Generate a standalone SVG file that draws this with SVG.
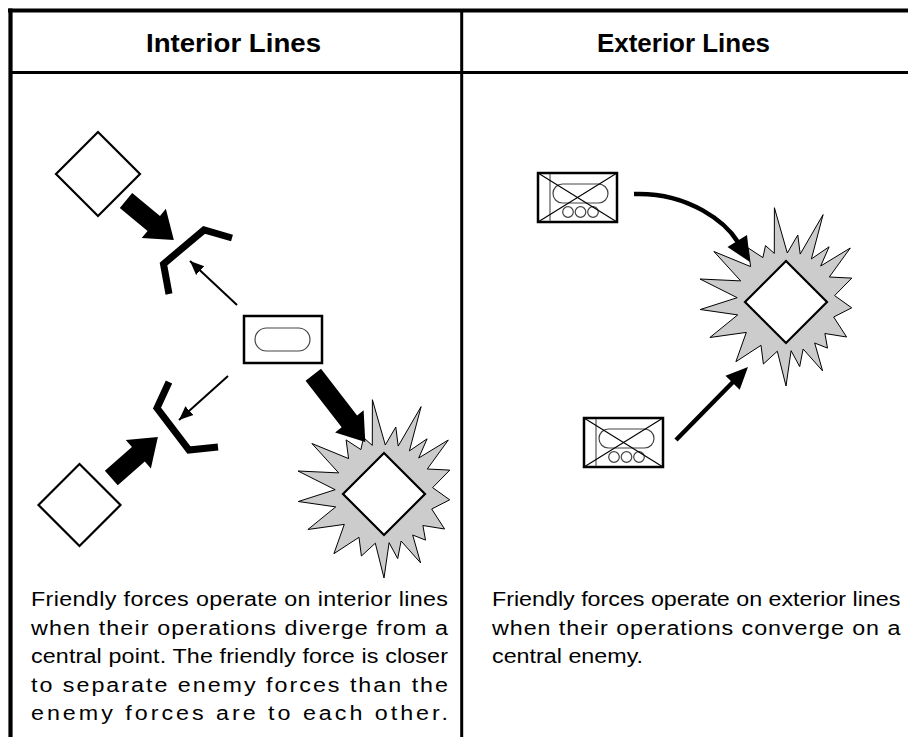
<svg xmlns="http://www.w3.org/2000/svg" xmlns:xlink="http://www.w3.org/1999/xlink" width="908" height="737" viewBox="0 0 908 737">
<style>
.frame{stroke:#000;fill:none}
.enemy{fill:#fff;stroke:#000;stroke-width:2.2}
.burst{fill:#cccccc;stroke:#000;stroke-width:1}
.big{fill:#000;stroke:none}
.bracket{fill:none;stroke:#000;stroke-width:7;stroke-linejoin:miter;stroke-linecap:butt}
.thin{stroke:#000;stroke-width:2;fill:none}
.unit{fill:#fff;stroke:#000;stroke-width:2.5}
.pill{fill:none;stroke:#444;stroke-width:1.2}
.xline{stroke:#000;stroke-width:1.1}
.vline{stroke:#555;stroke-width:1.2}
.thick{stroke:#000;stroke-width:4.5;fill:none}
.head{fill:#000}
.hdr{font-family:"Liberation Sans",Arial,sans-serif;font-weight:bold;font-size:26px;fill:#000}
.body{font-family:"Liberation Sans",Arial,sans-serif;font-size:20.8px;fill:#000}
</style>
<defs>
<marker id="thinHead" markerUnits="userSpaceOnUse" markerWidth="16" markerHeight="14" refX="14" refY="6" orient="auto" viewBox="0 0 16 12">
<path d="M0,0 L14,6 L0,12 Z" fill="#000"/>
</marker>
<polygon id="burstShape" class="burst" points="-86.0,-23.0 -45.3,-21.1 -72.1,-50.5 -35.4,-35.4 -37.9,-54.1 -23.1,-44.4 -20.5,-56.4 -11.7,-48.6 -11.6,-94.3 1.3,-49.0 11.8,-67.0 14.2,-47.9 37.1,-87.4 25.4,-43.1 43.1,-55.2 34.7,-36.0 64.3,-54.0 43.3,-25.0 65.8,-23.9 48.6,-6.4 65.7,5.8 47.7,15.0 60.6,35.0 38.9,31.5 41.5,46.1 28.7,41.0 36.6,68.9 17.1,47.0 13.7,64.6 5.1,48.7 0,84 -8.7,49.2 -22.6,62.0 -25.0,43.3 -50.1,59.7 -39.7,30.4 -76.1,35.5 -48.3,12.9 -85.7,7.5 -48.8,-4.3"/>
<g id="tank">
<rect class="unit" x="0" y="0" width="79" height="49"/>
<line class="vline" x1="12" y1="1" x2="12" y2="48"/>
<rect class="pill" x="15" y="11" width="55" height="19" rx="9.5"/>
<circle class="pill" cx="30" cy="39" r="5.3"/>
<circle class="pill" cx="42.5" cy="39" r="5.3"/>
<circle class="pill" cx="55" cy="39" r="5.3"/>
<line class="xline" x1="0" y1="0" x2="79" y2="49"/>
<line class="xline" x1="0" y1="49" x2="79" y2="0"/>
</g>
</defs>

<g id="frame" class="frame">
<line x1="8" y1="10.5" x2="908" y2="10.5" stroke-width="4"/>
<line x1="10.5" y1="8.5" x2="10.5" y2="737" stroke-width="4.2"/>
<line x1="461.7" y1="10" x2="461.7" y2="737" stroke-width="3"/>
<line x1="10" y1="72.5" x2="908" y2="72.5" stroke-width="3"/>
</g>

<g id="headers">
<text class="hdr" x="146" y="51.5" textLength="175" lengthAdjust="spacingAndGlyphs">Interior Lines</text>
<text class="hdr" x="597" y="51.5" textLength="173" lengthAdjust="spacingAndGlyphs">Exterior Lines</text>
</g>

<g id="burst-left"><use xlink:href="#burstShape" href="#burstShape" transform="translate(384,494)"/>
<polygon class="enemy" points="384,453 425,494 384,535 343,494"/></g>
<g id="burst-right"><use xlink:href="#burstShape" href="#burstShape" transform="translate(786,302)"/>
<polygon class="enemy" points="786,261 827,302 786,343 745,302"/></g>

<g id="enemy-top"><polygon class="enemy" points="98,132 140,174 98,216 56,174"/></g>
<g id="enemy-bottom"><polygon class="enemy" points="79.5,464 120.5,505 79.5,546 38.5,505"/></g>

<g id="friendly-center">
<rect class="unit" x="244" y="316" width="78" height="47"/>
<rect class="pill" x="255" y="328" width="55" height="23" rx="11.5"/>
</g>

<g id="bracket-top"><polyline class="bracket" points="169,294 163.5,264 204,230 232,238"/></g>
<g id="bracket-bottom"><polyline class="bracket" points="169,382 157,408 189,450 218,447"/></g>

<g id="tank-top"><use xlink:href="#tank" href="#tank" transform="translate(538,173)"/></g>
<g id="tank-bottom"><use xlink:href="#tank" href="#tank" transform="translate(584,418)"/></g>

<g id="connectors">
<path class="big" d="M0,-9.75 H36 V-19 L62,0 L36,19 V9.75 H0 Z" transform="translate(126,200.5) rotate(39.5)"/>
<path class="big" d="M0,-9.75 H59 V-18 L85,0 L59,18 V9.75 H0 Z" transform="translate(313.3,374.7) rotate(52.3)"/>
<path class="big" d="M0,-9.75 H36 V-19 L62,0 L36,19 V9.75 H0 Z" transform="translate(111.3,478) rotate(-41.3)"/>
<line class="thin" x1="237" y1="305" x2="190" y2="261" marker-end="url(#thinHead)"/>
<line class="thin" x1="228" y1="376" x2="179" y2="420" marker-end="url(#thinHead)"/>
<path class="thick" d="M634,194 C690,192 726.7,223.9 737.5,241.5"/>
<polygon class="head" points="750,262 727.5,247 747,235"/>
<line class="thick" x1="676" y1="440" x2="733" y2="382"/>
<polygon class="head" points="748,367 739.7,389.7 725.5,375.7"/>
</g>

<g id="text-left" transform="translate(31,0) scale(1.12,1)">
<text class="body" x="0" y="606" textLength="372.3" lengthAdjust="spacing">Friendly forces operate on interior lines</text>
<text class="body" x="0" y="635" textLength="372.3" lengthAdjust="spacing">when their operations diverge from a</text>
<text class="body" x="0" y="663" textLength="372.3" lengthAdjust="spacing">central point. The friendly force is closer</text>
<text class="body" x="0" y="692" textLength="372.3" lengthAdjust="spacing">to separate enemy forces than the</text>
<text class="body" x="0" y="720" textLength="372.3" lengthAdjust="spacing">enemy forces are to each other.</text>
</g>
<g id="text-right" transform="translate(492,0) scale(1.12,1)">
<text class="body" x="0" y="606" textLength="364.6" lengthAdjust="spacing">Friendly forces operate on exterior lines</text>
<text class="body" x="0" y="635" textLength="364.6" lengthAdjust="spacing">when their operations converge on a</text>
<text class="body" x="0" y="663">central enemy.</text>
</g>
</svg>
